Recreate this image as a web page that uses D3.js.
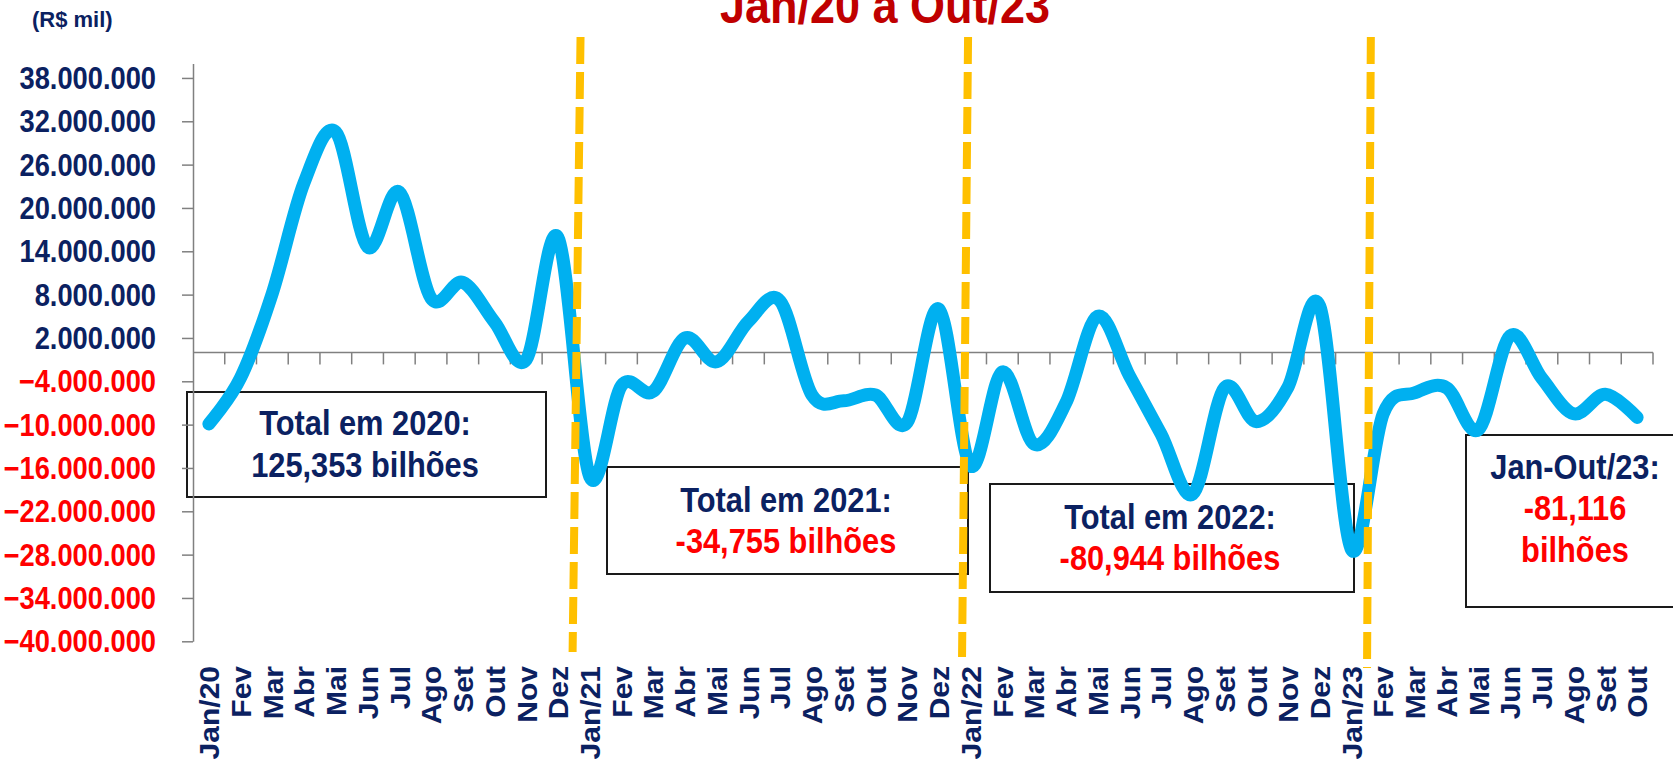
<!DOCTYPE html>
<html>
<head>
<meta charset="utf-8">
<script src="https://cdn.jsdelivr.net/npm/d3@7"></script>
<style>
  body { margin: 0; background: #fff; }
  svg { display: block; font-family: "Liberation Sans", Arial, sans-serif; font-weight: bold; }
</style>
</head>
<body>
<div id="d3-container"></div>
<script>
// month labels on the category axis
const months = ["Jan/20", "Fev", "Mar", "Abr", "Mai", "Jun", "Jul", "Ago", "Set", "Out", "Nov", "Dez",
    "Jan/21", "Fev", "Mar", "Abr", "Mai", "Jun", "Jul", "Ago", "Set", "Out", "Nov", "Dez",
    "Jan/22", "Fev", "Mar", "Abr", "Mai", "Jun", "Jul", "Ago", "Set", "Out", "Nov", "Dez",
    "Jan/23", "Fev", "Mar", "Abr", "Mai", "Jun", "Jul", "Ago", "Set", "Out"];

// monthly result, millions of R$ mil
const v2020 = [-9.9, -3.5, 8.2, 23.5, 30.5, 14.6, 22.2, 7.5, 9.7, 4.2, -1.0, 15.9];
const v2021 = [-17.2, -4.6, -5.4, 2.0, -1.3, 4.3, 7.1, -5.9, -6.7, -5.9, -9.7, 6.0];
const v2022 = [-15.7, -2.7, -12.7, -7.0, 5.0, -3.2, -11.3, -19.6, -4.9, -9.6, -4.8, 6.4];
const v2023 = [-27.3, -8.5, -5.6, -4.9, -10.7, 2.3, -3.6, -8.5, -5.8, -9.0];

const yTicks = d3.range(-40, 39, 6);

// yearly totals shown in the boxes
const totalTitles = ["Total em 2020:", "Total em 2021:", "Total em 2022:", "Jan-Out/23:"];
const totalValues = [["125,353 bilhões"], ["-34,755 bilhões"], ["-80,944 bilhões"], ["-81,116", "bilhões"]];

const values = [...v2020, ...v2021, ...v2022, ...v2023];

const width = 1673, height = 759;
const navy = "#0b2161", red = "#ff0000";

const svg = d3.select("#d3-container")
    .append("svg")
    .attr("width", width)
    .attr("height", height);

const xScale = d3.scaleBand()
    .domain(d3.range(values.length))
    .range([193, 1653])
    .padding(0);

const yScale = d3.scaleLinear()
    .domain([-40, 40])
    .range([641.3, 63.5]);

const fmt = d3.formatLocale({ decimal: ",", thousands: ".", grouping: [3], currency: ["R$", ""] }).format(",d");

// title (cut at the top of the picture)
svg.append("text")
    .attr("transform", "translate(885,23) scale(0.9,1)")
    .attr("text-anchor", "middle")
    .attr("font-size", 50)
    .attr("fill", "#c00000")
    .text("Jan/20 a Out/23");

svg.append("text")
    .attr("x", 32)
    .attr("y", 27)
    .attr("font-size", 22)
    .attr("fill", navy)
    .text("(R$ mil)");

// boxes go under the line
const boxes = [
    { x0: 187, x1: 546, y0: 392, y1: 497, cx: 365, base: 435 },
    { x0: 607, x1: 968, y0: 467, y1: 574, cx: 786, base: 511.5 },
    { x0: 990, x1: 1354, y0: 484, y1: 592, cx: 1170, base: 528.5 },
    { x0: 1466, x1: 1690, y0: 435, y1: 607, cx: 1575, base: 478.5 }
];

boxes.forEach((b, i) => {
    svg.append("rect")
        .attr("x", b.x0).attr("y", b.y0)
        .attr("width", b.x1 - b.x0).attr("height", b.y1 - b.y0)
        .attr("fill", "none")
        .attr("stroke", "#1a1a1a")
        .attr("stroke-width", 2);
    const lines = [totalTitles[i], ...totalValues[i]];
    lines.forEach((t, j) => {
        svg.append("text")
            .attr("transform", `translate(${b.cx},${b.base + j * 41.7}) scale(0.88,1)`)
            .attr("text-anchor", "middle")
            .attr("font-size", 35)
            .attr("fill", (j == 0 || i == 0) ? navy : red)
            .text(t);
    });
});

// y axis
const yAxis = d3.axisLeft(yScale)
    .tickValues(yTicks)
    .tickSize(11)
    .tickSizeOuter(0)
    .tickFormat("");

const gy = svg.append("g")
    .attr("transform", "translate(193,0)")
    .call(yAxis);
gy.selectAll("path, line").attr("stroke", "#808080").attr("stroke-width", 1.5);

svg.append("g")
    .selectAll("text")
    .data(yTicks)
    .join("text")
    .attr("transform", d => `translate(156,${yScale(d)}) scale(0.88,1)`)
    .attr("dy", "0.36em")
    .attr("text-anchor", "end")
    .attr("font-size", 31)
    .attr("fill", d => d < 0 ? red : navy)
    .text(d => fmt(d * 1e6));

// category axis crossing at zero, ticks between months
const y0 = yScale(0);
svg.append("line")
    .attr("x1", xScale.range()[0]).attr("x2", xScale.range()[1])
    .attr("y1", y0).attr("y2", y0)
    .attr("stroke", "#808080").attr("stroke-width", 1.5);

svg.append("g")
    .selectAll("line")
    .data(d3.range(1, values.length + 1))
    .join("line")
    .attr("x1", d => xScale.range()[0] + d * xScale.step())
    .attr("x2", d => xScale.range()[0] + d * xScale.step())
    .attr("y1", y0).attr("y2", y0 + 12)
    .attr("stroke", "#808080").attr("stroke-width", 1.5);

svg.append("g")
    .selectAll("text")
    .data(months)
    .join("text")
    .attr("transform", (d, i) => `translate(${xScale(i) + xScale.bandwidth() / 2},666) rotate(-90) scale(1,0.95)`)
    .attr("dy", "0.36em")
    .attr("text-anchor", "end")
    .attr("font-size", 30)
    .attr("fill", navy)
    .text(d => d);

// the series
const line = d3.line()
    .x((d, i) => xScale(i) + xScale.bandwidth() / 2)
    .y(d => yScale(d))
    .curve(d3.curveCatmullRom.alpha(0));

svg.append("path")
    .datum(values)
    .attr("d", line)
    .attr("fill", "none")
    .attr("stroke", "#00b0f0")
    .attr("stroke-width", 13)
    .attr("stroke-linecap", "round")
    .attr("stroke-linejoin", "round");

// dashed year dividers, in month units from the left edge (slightly slanted in the original)
const dividers = [
    { top: 12.21, bottom: 11.96, y1: 652 },
    { top: 24.42, bottom: 24.23, y1: 657 },
    { top: 37.11, bottom: 36.99, y1: 668 }
];
const xAt = f => xScale.range()[0] + f * xScale.step();

svg.append("g")
    .selectAll("line")
    .data(dividers)
    .join("line")
    .attr("x1", d => xAt(d.top)).attr("y1", 37)
    .attr("x2", d => xAt(d.bottom)).attr("y2", d => d.y1)
    .attr("stroke", "#ffc000")
    .attr("stroke-width", 8)
    .attr("stroke-dasharray", "27,8");
</script>
</body>
</html>
